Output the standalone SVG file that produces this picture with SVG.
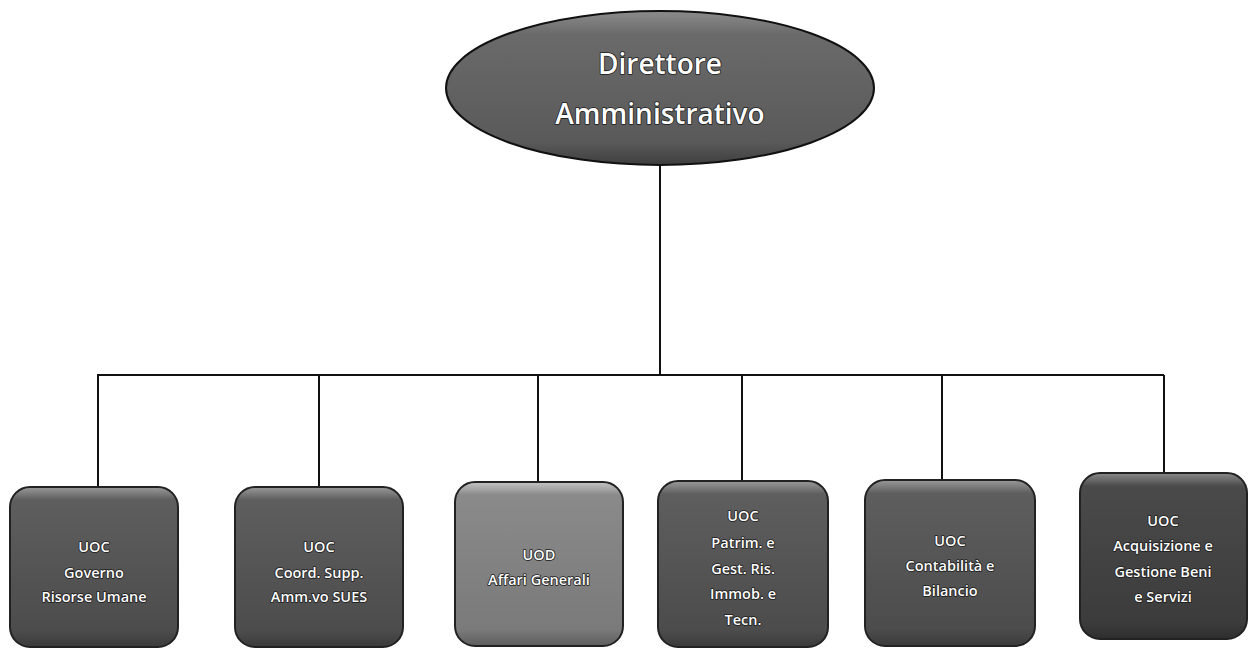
<svg xmlns="http://www.w3.org/2000/svg" width="1251" height="649" viewBox="0 0 1251 649">
  <style>
    .conn { fill: none; stroke: #111; stroke-width: 2; }
    .box { stroke: #222; stroke-width: 2; }
    .lbl { font-family: "Open Sans", "Liberation Sans", sans-serif; font-weight: 600; fill: #fff; text-anchor: middle;
           stroke: #1a1a1a; stroke-width: 1.6; paint-order: stroke; stroke-linejoin: round; }
    .small { font-size: 14.5px; }
    .big { font-size: 28px; }
  </style>
  <defs>
    <linearGradient id="gDark" x1="0" y1="0" x2="0" y2="1">
      <stop offset="0" stop-color="#9a9a9a"/>
      <stop offset="0.08" stop-color="#5e5e5e"/>
      <stop offset="0.9" stop-color="#4c4c4c"/>
      <stop offset="1" stop-color="#3a3a3a"/>
    </linearGradient>
    <linearGradient id="gDarker" x1="0" y1="0" x2="0" y2="1">
      <stop offset="0" stop-color="#8a8a8a"/>
      <stop offset="0.08" stop-color="#4a4a4a"/>
      <stop offset="0.9" stop-color="#3c3c3c"/>
      <stop offset="1" stop-color="#2e2e2e"/>
    </linearGradient>
    <linearGradient id="gLight" x1="0" y1="0" x2="0" y2="1">
      <stop offset="0" stop-color="#c4c4c4"/>
      <stop offset="0.08" stop-color="#8a8a8a"/>
      <stop offset="0.9" stop-color="#7a7a7a"/>
      <stop offset="1" stop-color="#5e5e5e"/>
    </linearGradient>
    <linearGradient id="gOval" x1="0" y1="0" x2="0" y2="1">
      <stop offset="0" stop-color="#8c8c8c"/>
      <stop offset="0.15" stop-color="#6a6a6a"/>
      <stop offset="0.85" stop-color="#5a5a5a"/>
      <stop offset="1" stop-color="#3e3e3e"/>
    </linearGradient>
  </defs>

  <rect width="1251" height="649" fill="#fff"/>

  <!-- connectors -->
  <g id="connectors">
    <line class="conn" x1="660" y1="165" x2="660" y2="375"/>
    <line class="conn" x1="97" y1="375" x2="1164" y2="375"/>
    <line class="conn" x1="98" y1="375" x2="98" y2="487"/>
    <line class="conn" x1="319" y1="375" x2="319" y2="487"/>
    <line class="conn" x1="538" y1="375" x2="538" y2="482"/>
    <line class="conn" x1="742" y1="375" x2="742" y2="481"/>
    <line class="conn" x1="942" y1="375" x2="942" y2="480"/>
    <line class="conn" x1="1164" y1="375" x2="1164" y2="473"/>
  </g>

  <!-- root -->
  <g id="node-direttore">
    <ellipse cx="660" cy="88" rx="214" ry="77" fill="url(#gOval)" stroke="#111" stroke-width="2"/>
    <text class="lbl big" x="660" y="74">Direttore</text>
    <text class="lbl big" x="660" y="124">Amministrativo</text>
  </g>

  <g id="node-risorse-umane">
    <rect class="box" x="10" y="487" width="168" height="160" rx="20" fill="url(#gDark)"/>
    <text class="lbl small" x="94" y="552">UOC</text>
    <text class="lbl small" x="94" y="578">Governo</text>
    <text class="lbl small" x="94" y="602">Risorse Umane</text>
  </g>

  <g id="node-sues">
    <rect class="box" x="235" y="487" width="168" height="160" rx="20" fill="url(#gDark)"/>
    <text class="lbl small" x="319" y="552">UOC</text>
    <text class="lbl small" x="319" y="578">Coord. Supp.</text>
    <text class="lbl small" x="319" y="602">Amm.vo SUES</text>
  </g>

  <g id="node-affari-generali">
    <rect class="box" x="455" y="482" width="168" height="164" rx="20" fill="url(#gLight)"/>
    <text class="lbl small" x="539" y="560">UOD</text>
    <text class="lbl small" x="539" y="585">Affari Generali</text>
  </g>

  <g id="node-patrimonio">
    <rect class="box" x="658" y="481" width="170" height="166" rx="20" fill="url(#gDark)"/>
    <text class="lbl small" x="743" y="521">UOC</text>
    <text class="lbl small" x="743" y="548">Patrim. e</text>
    <text class="lbl small" x="743" y="574">Gest. Ris.</text>
    <text class="lbl small" x="743" y="599">Immob. e</text>
    <text class="lbl small" x="743" y="625">Tecn.</text>
  </g>

  <g id="node-contabilita">
    <rect class="box" x="865" y="480" width="170" height="166" rx="20" fill="url(#gDark)"/>
    <text class="lbl small" x="950" y="546">UOC</text>
    <text class="lbl small" x="950" y="571">Contabilità e</text>
    <text class="lbl small" x="950" y="596">Bilancio</text>
  </g>

  <g id="node-acquisizione">
    <rect class="box" x="1080" y="473" width="167" height="166" rx="20" fill="url(#gDarker)"/>
    <text class="lbl small" x="1163" y="526">UOC</text>
    <text class="lbl small" x="1163" y="551">Acquisizione e</text>
    <text class="lbl small" x="1163" y="577">Gestione Beni</text>
    <text class="lbl small" x="1163" y="602">e Servizi</text>
  </g>
</svg>
